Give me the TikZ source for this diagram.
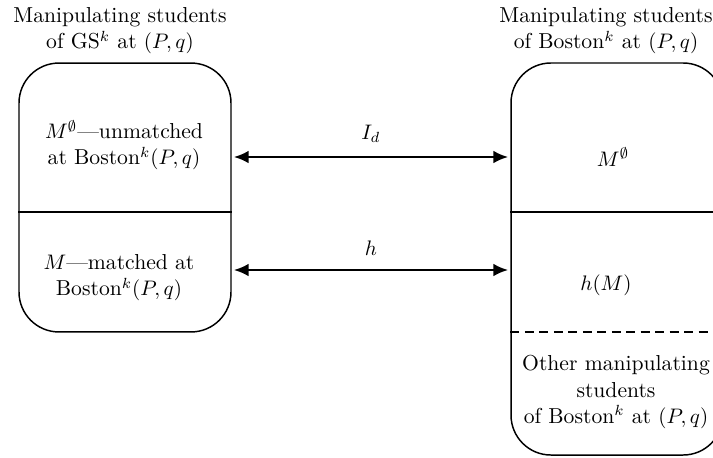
\documentclass[tikz,border=0pt]{standalone}
\usetikzlibrary{arrows.meta}
\begin{document}
\begin{tikzpicture}[x=0.476pt,y=-0.476pt,
  every node/.style={font=\fontsize{10.3pt}{12.4pt}\selectfont},
  box/.style={draw,line width=0.7pt,rounded corners=19pt,inner sep=0pt},
  lbl/.style={align=center,inner sep=0pt},
  biarrow/.style={{Latex[length=7pt,width=6pt]}-{Latex[length=7pt,width=6pt]},line width=1.1pt,shorten <=1pt,shorten >=1pt}]
\useasboundingbox (0,0) rectangle (713,457);
\clip (0,0) rectangle (713,457);
% boxes
\node[box,minimum width=100.9pt,minimum height=128pt] (lbox) at (125,197.5) {};
\node[box,minimum width=100.9pt,minimum height=186.6pt] (rbox) at (617,259) {};
% titles
\node[lbl] (ltitle) at (120,31) {Manipulating students\\of GS$^k$ at $(P,q)$};
\node[lbl] (rtitle) at (606,31) {Manipulating students\\of Boston$^k$ at $(P,q)$};
% dividers
\coordinate (d1) at (0,212);
\coordinate (d2) at (0,332);
\draw[line width=0.7pt] (lbox.west |- d1) -- (lbox.east |- d1);
\draw[line width=0.7pt] (rbox.west |- d1) -- (rbox.east |- d1);
\draw[line width=0.7pt,dash pattern=on 4.3pt off 2.6pt] (rbox.west |- d2) -- (rbox.east |- d2);
% texts
\node[lbl] (lt1) at (124,145) {$M^{\emptyset}$---unmatched\\at Boston$^k(P,q)$};
\node[lbl] (lt2) at (119,278) {$M$---matched at\\Boston$^k(P,q)$};
\node[lbl] (rt1) at (613,157) {$M^{\emptyset}$};
\node[lbl] (rt2) at (606,285) {$h(M)$};
\node[lbl] (rt3) at (616,392) {Other manipulating\\students\\of Boston$^k$ at $(P,q)$};
% arrows
\coordinate (y1) at (0,157);
\coordinate (y2) at (0,270);
\draw[biarrow] (lbox.east |- y1) -- node[above=3pt] (l1) {$I_d$} (rbox.west |- y1);
\draw[biarrow] (lbox.east |- y2) -- node[above=3pt] (l2) {$h$} (rbox.west |- y2);
\end{tikzpicture}
\end{document}
